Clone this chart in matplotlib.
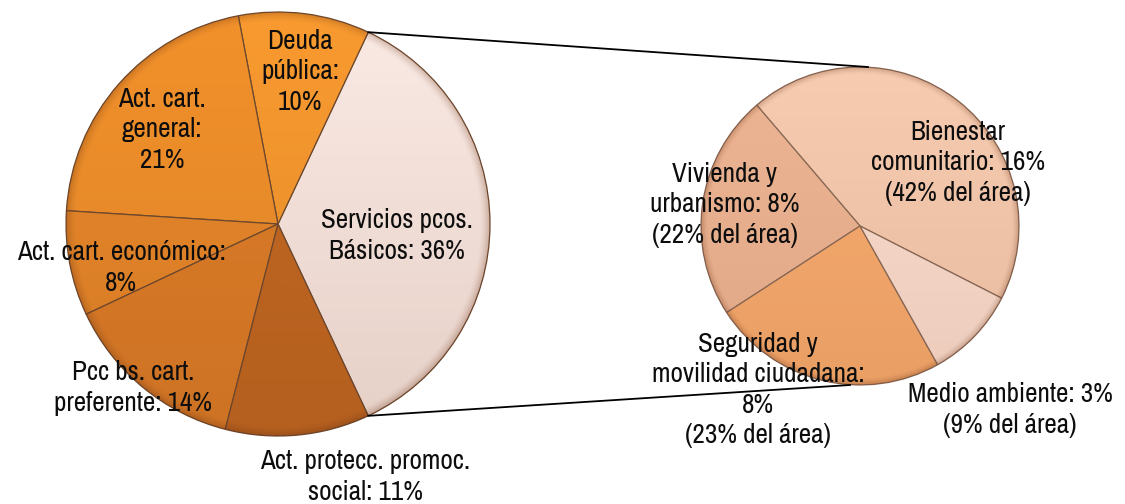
import numpy as np
import matplotlib
matplotlib.use("Agg")
import matplotlib.pyplot as plt
from matplotlib.patches import Circle

plt.rcParams['font.family'] = ['Archivo Narrow', 'DejaVu Sans']

# main pie (share of total budget, %)
main_labels = ['Servicios pcos.\nBásicos: 36%', 'Deuda\npública:\n10%', 'Act. cart.\ngeneral:\n21%',
               'Act. cart. económico:\n8%', 'Pcc bs. cart.\npreferente: 14%',
               'Act. protecc. promoc.\nsocial: 11%']
main_values = [36, 10, 21, 8, 14, 11]
main_colors = ['#FAEAE4', '#F89A2F', '#F1912B', '#E8882A', '#DE7E28', '#C26822']

# breakdown of "Servicios pcos. Básicos" (% of the area)
sub_labels = ['Bienestar\ncomunitario: 16%\n(42% del área)', 'Vivienda y\nurbanismo: 8%\n(22% del área)',
              'Seguridad y\nmovilidad ciudadana:\n8%\n(23% del área)', 'Medio ambiente: 3%\n(9% del área)']
sub_values = [42, 22, 23, 9]
sub_colors = ['#F6CBB0', '#EDB593', '#F8AB6E', '#FBDDCE']

W, H = 1125, 504
fig = plt.figure(figsize=(W / 100, H / 100), dpi=100)
ax = fig.add_axes([0, 0, 1, 1])

c1, r1 = (278, 280), 212
c2, r2 = (860, 278), 159
start1 = -main_values[0] / sum(main_values) * 180
start2 = -27


def shade(ax, center, r, dark=0.14):
    # warm vertical darkening plus a thin darker rim, clipped to the pie
    n = 400
    yy, xx = np.mgrid[1:-1:n * 1j, -1:1:n * 1j]
    d = np.sqrt(xx ** 2 + yy ** 2)
    alpha = dark * (1 - yy) / 2 + 0.25 * np.clip((d - 0.955) / 0.045, 0, 1) ** 1.5
    img = np.zeros((n, n, 4))
    img[..., :3] = (0.40, 0.18, 0.06)
    img[..., 3] = np.clip(alpha, 0, 1)
    im = ax.imshow(img, extent=(center[0] - r, center[0] + r, center[1] - r, center[1] + r),
                   zorder=3, interpolation='bilinear')
    im.set_clip_path(Circle(center, r, transform=ax.transData))


ax.pie(main_values, colors=main_colors, startangle=start1, center=c1, radius=r1,
       wedgeprops=dict(edgecolor='#6e4a30', linewidth=0.9, zorder=2))
ax.pie(sub_values, colors=sub_colors, startangle=start2, center=c2, radius=r2,
       wedgeprops=dict(edgecolor='#8a6a58', linewidth=0.9, zorder=2))
shade(ax, c1, r1)
shade(ax, c2, r2, dark=0.10)

# connector lines between the expanded slice and the second pie
a = np.deg2rad(main_values[0] / sum(main_values) * 180)
ax.plot([c1[0] + r1 * np.cos(a), c2[0] + 8], [c1[1] + r1 * np.sin(a), c2[1] + r2], color='black', lw=1.3, zorder=4)
ax.plot([c1[0] + r1 * np.cos(a), c2[0] - 10], [c1[1] - r1 * np.sin(a), c2[1] - r2], color='black', lw=1.3, zorder=4)

# label centres in pixels from the top-left corner
main_pos = [(397, 236), (300, 72), (162, 130), (121, 268), (133, 388), (365, 477)]
sub_pos = [(958, 163), (725, 205), (758, 390), (1010, 410)]
for lab, (x, y) in zip(main_labels + sub_labels, main_pos + sub_pos):
    ax.text(x, H - y, lab, ha='center', va='center', fontsize=19.5, color='#0d0d0d',
            linespacing=1.27, zorder=5)

ax.set_xlim(0, W)
ax.set_ylim(0, H)
ax.set_aspect('auto')
ax.axis('off')
fig.savefig('out.png', dpi=100)
